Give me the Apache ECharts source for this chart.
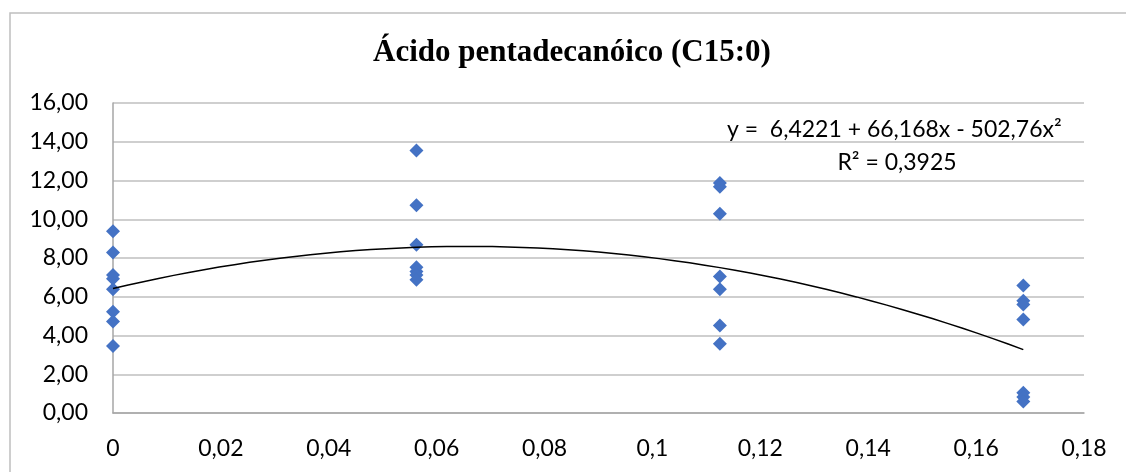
<!DOCTYPE html>
<html>
<head>
<meta charset="utf-8">
<script src="https://cdn.jsdelivr.net/npm/echarts@6/dist/echarts.min.js"></script>
<style>
html,body{margin:0;padding:0;background:#fff;}
#chart{width:1126px;height:472px;}
</style>
</head>
<body>
<div id="chart"></div>
<script>
// ---- data ----
const titleText = 'Ácido pentadecanóico (C15:0)';
const doseLevels = [0, 0.05625, 0.1125, 0.16875];
const valuesAtDose0 = [9.38, 8.28, 7.12, 6.93, 6.39, 5.23, 4.72, 3.46];
const valuesAtDose1 = [13.55, 10.72, 8.68, 7.52, 7.30, 7.12, 6.88];
const valuesAtDose2 = [11.87, 11.68, 10.28, 7.05, 6.39, 4.51, 3.57];
const valuesAtDose3 = [6.58, 5.80, 5.60, 4.82, 1.05, 0.82, 0.60];
const trendCoefficients = [6.4221, 66.168, -502.76]; // y = a + b x + c x^2 (as printed)
const equationText = 'y =  6,4221 + 66,168x - 502,76x²';
const r2Text = 'R² = 0,3925';
const xTicks = {min: 0, max: 0.18, interval: 0.02};
const yTicks = {min: 0, max: 16, interval: 2};

// ---- build series ----
const groups = [valuesAtDose0, valuesAtDose1, valuesAtDose2, valuesAtDose3];
const scatterData = [];
groups.forEach((vals, i) => vals.forEach(v => scatterData.push([doseLevels[i], v])));

const trendData = [];
const xEnd = doseLevels[doseLevels.length - 1];
const steps = 60;
for (let k = 0; k <= steps; k++) {
  const x = xEnd * k / steps;
  trendData.push([x, trendCoefficients[0] + trendCoefficients[1] * x + trendCoefficients[2] * x * x]);
}

const labelFont = 'Lato, "Open Sans", sans-serif';
const chart = echarts.init(document.getElementById('chart'), null, {renderer: 'canvas'});
chart.setOption({
  animation: false,
  backgroundColor: '#ffffff',
  title: {
    text: titleText,
    left: 368, top: 32,
    textStyle: {fontFamily: '"Liberation Serif", "Times New Roman", serif', fontWeight: 'bold', fontSize: 31, color: '#000'}
  },
  grid: {left: 113, right: 42, top: 103, bottom: 59, containLabel: false},
  xAxis: {
    type: 'value', min: xTicks.min, max: xTicks.max, interval: xTicks.interval,
    axisLine: {show: true, lineStyle: {color: '#a6a6a6', width: 1.5}},
    axisTick: {show: false},
    splitLine: {show: false},
    axisLabel: {
      margin: 24, color: '#000', fontFamily: labelFont, fontSize: 23,
      formatter: v => v === 0 ? '0' : String(+v.toFixed(2)).replace('.', ',')
    }
  },
  yAxis: {
    type: 'value', min: yTicks.min, max: yTicks.max, interval: yTicks.interval,
    axisLine: {show: true, lineStyle: {color: '#a6a6a6', width: 1.5}},
    axisTick: {show: false},
    splitLine: {show: true, lineStyle: {color: '#bfbfbf', width: 1.5}},
    axisLabel: {
      margin: 25, color: '#000', fontFamily: labelFont, fontSize: 23,
      formatter: v => v.toFixed(2).replace('.', ',')
    }
  },
  series: [
    {
      type: 'scatter', data: scatterData, symbol: 'diamond', symbolSize: 14,
      itemStyle: {color: '#4472C4', opacity: 1}, z: 3
    },
    {
      type: 'line', data: trendData, showSymbol: false, smooth: false,
      lineStyle: {color: '#000', width: 1.5}, z: 4
    }
  ],
  graphic: [
    {type: 'rect', shape: {x: 10, y: 13, width: 1140, height: 500}, style: {fill: 'none', stroke: '#bfbfbf', lineWidth: 1.5}, silent: true},
    {type: 'text', x: 727, y: 130, style: {text: equationText, fontFamily: labelFont, fontSize: 23, fill: '#000', textVerticalAlign: 'middle'}},
    {type: 'text', x: 897, y: 163, style: {text: r2Text, fontFamily: labelFont, fontSize: 23, fill: '#000', textAlign: 'center', textVerticalAlign: 'middle'}}
  ]
});
</script>
</body>
</html>
